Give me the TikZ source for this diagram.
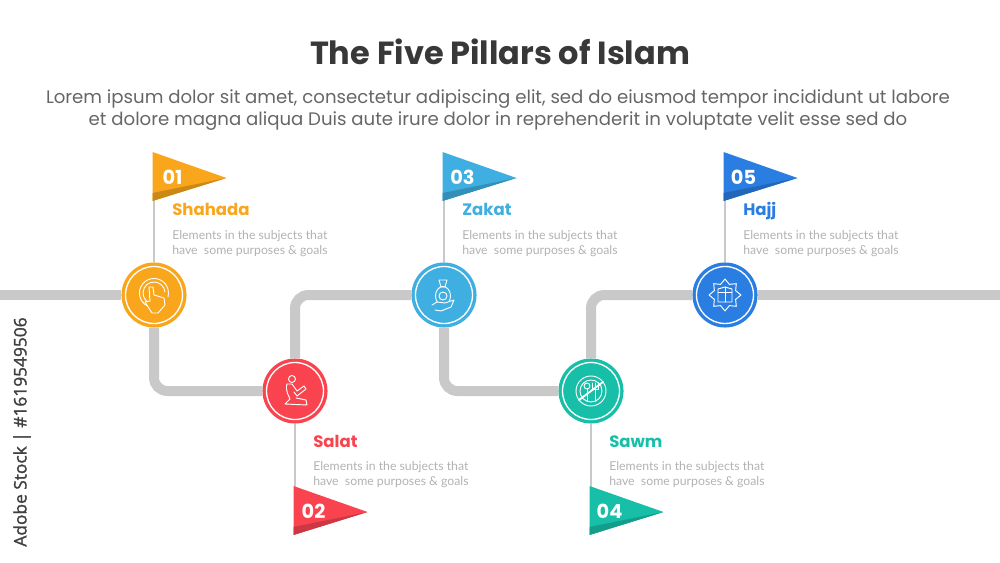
\documentclass[tikz,border=0pt]{standalone}
\usepackage{fontspec}
\setmainfont{Poppins}
\newfontfamily\latofont{Lato}
\newfontfamily\sidefont[FakeBold=1.5]{Open Sans}
\usetikzlibrary{calc}
\definecolor{pillarorange}{HTML}{F9A61C}
\definecolor{pillarred}{HTML}{F9444F}
\definecolor{pillarsky}{HTML}{3FAEE0}
\definecolor{pillarteal}{HTML}{17BFA8}
\definecolor{pillarblue}{HTML}{2A7DE1}
\definecolor{roadgray}{HTML}{C9C9C9}
\tikzset{
  road/.style={draw=roadgray,line width=7.5pt,rounded corners=10pt},
  pole/.style={draw=roadgray,line width=2.2pt},
  stepdot/.style={circle,minimum size=48.8pt,inner sep=0pt,outer sep=0pt},
  flagnum/.style={text=white,font=\bfseries\fontsize{14.5}{16}\selectfont},
  pillarname/.style={anchor=base west,font=\bfseries\fontsize{12.4}{14}\selectfont},
  pillartext/.style={anchor=west,align=left,text=black!30,inner sep=0pt,font=\latofont\fontsize{9.2}{11.25}\selectfont},
  icon/.style={draw=white,line width=.7pt,line join=round,line cap=round}
}
\begin{document}
\begin{tikzpicture}[x=.75pt,y=-.75pt]
    \useasboundingbox (0,0) rectangle (1000,563);
    \node[text=black!78,font=\bfseries\fontsize{24}{27}\selectfont] (title) at (500,52) {The Five Pillars of Islam};
    \node[align=center,text=black!60,inner sep=0pt,font=\fontsize{13.6}{16.5}\selectfont] (intro) at (498,110) {Lorem ipsum dolor sit amet, consectetur adipiscing elit, sed do eiusmod tempor incididunt ut labore\\et dolore magna aliqua Duis aute irure dolor in reprehenderit in voluptate velit esse sed do};
    \node[rotate=90,text=black!75,font=\sidefont\fontsize{13}{15}\selectfont] (credit) at (22,432) {Adobe Stock | \#1619549506};

    % circle, pole, flag and texts of every pillar
    \foreach \nm/\cx/\cy/\fy/\hy/\col/\num/\ttl in {
      A/154/295/152/216/pillarorange/01/Shahada,
      B/295/391/486/447/pillarred/02/Salat,
      C/444/295/152/216/pillarsky/03/Zakat,
      D/591/391/486/447/pillarteal/04/Sawm,
      E/725/295/152/216/pillarblue/05/Hajj}{
      \node[stepdot,fill=\col] (step\nm) at (\cx,\cy) {};
      \draw[white,line width=1pt] (step\nm) circle[radius=28.5];
      \coordinate (base\nm) at (\cx,\fy+24);
      \draw[pole] (step\nm) -- (base\nm);
      \fill[\col] (\cx-1.5,\fy) -- (\cx+72.5,\fy+26) -- (\cx-1.5,\fy+49) -- cycle;
      \fill[\col!82!black] (\cx-1.5,\fy+41) -- (\cx+72.5,\fy+26) -- (\cx-1.5,\fy+49) -- cycle;
      \node[flagnum] (num\nm) at (\cx+18.5,\fy+25) {\num};
      \node[pillarname,text=\col,inner sep=0pt] (name\nm) at (\cx+18,\hy) {\ttl};
      \node[pillartext] (text\nm) at (\cx+18,\hy+27.5) {Elements in the subjects that\\have\ \ some purposes \& goals};
    }

    \coordinate (roadstart) at (0,295);
    \coordinate (roadend) at (1000,295);
    \draw[road] (roadstart) -- (stepA);
    \draw[road] (stepA) |- (stepB);
    \draw[road] (stepB) |- (stepC);
    \draw[road] (stepC) |- (stepD);
    \draw[road] (stepD) |- (stepE);
    \draw[road] (stepE) -- (roadend);

    % hand
    \begin{scope}[shift={(stepA)},icon]
      \draw ($(0,-2)+(75:14.5)$) arc[start angle=75,end angle=375,radius=14.5];
      \draw ($(0,-2)+(95:11)$) arc[start angle=95,end angle=355,radius=11];
      \draw[fill=pillarorange] (-5,-8) -- (-1,-8) -- (0,0) -- (10,3) -- (11,10) -- (4,18) -- (-2,18) -- (-9,7) -- (-4,6) -- cycle;
    \end{scope}
    % kneeling figure
    \begin{scope}[shift={(stepB)},icon]
      \draw (-3,-12) circle[radius=3.5];
      \draw (-8,-7) -- (-3,-7) -- (2,0) -- (9,-5) -- (11,-2) -- (2,5) -- (-1,1);
      \draw (-8,-7) .. controls (-10,0) and (-6,5) .. (-5,8) -- (-10,13) -- (12,14) -- (11,9) -- (1,7);
    \end{scope}
    % bag on a hand
    \begin{scope}[shift={(stepC)},icon]
      \draw (-3,-8) -- (-5,-15) -- (3,-15) -- (1,-8) -- cycle;
      \draw (-1,1) ellipse[x radius=7.5,y radius=9.5];
      \draw (-1,1) circle[radius=4];
      \draw[fill=pillarsky] (-12,10) -- (-7,7) -- (1,8) -- (10,5) -- (7,12) -- (-3,16) -- (-9,15);
    \end{scope}
    % crossed spoon and fork
    \begin{scope}[shift={(stepD)},icon]
      \draw (0,0) circle[radius=15];
      \draw (0,0) circle[radius=11];
      \draw (-4,-5) circle[radius=3];
      \draw (-4,-2) -- (-4,10);
      \draw (4,-8) -- (4,10);
      \draw (1,-8) -- (1,-2) -- (7,-2) -- (7,-8);
      \draw[line width=1.4pt] (-12,9) -- (12,-9);
    \end{scope}
    % star with the cube
    \begin{scope}[shift={(stepE)},icon]
      \draw (0:16) \foreach \a in {0,45,...,315}{ -- (\a:16) -- (\a+22.5:11.5)} -- cycle;
      \draw (-7,-6) -- (0,-8) -- (7,-6) -- (7,7) -- (-7,7) -- cycle;
      \draw (-7,-3) -- (7,-3);
      \draw (0,-8) -- (0,7);
    \end{scope}
  \end{tikzpicture}
\end{document}
